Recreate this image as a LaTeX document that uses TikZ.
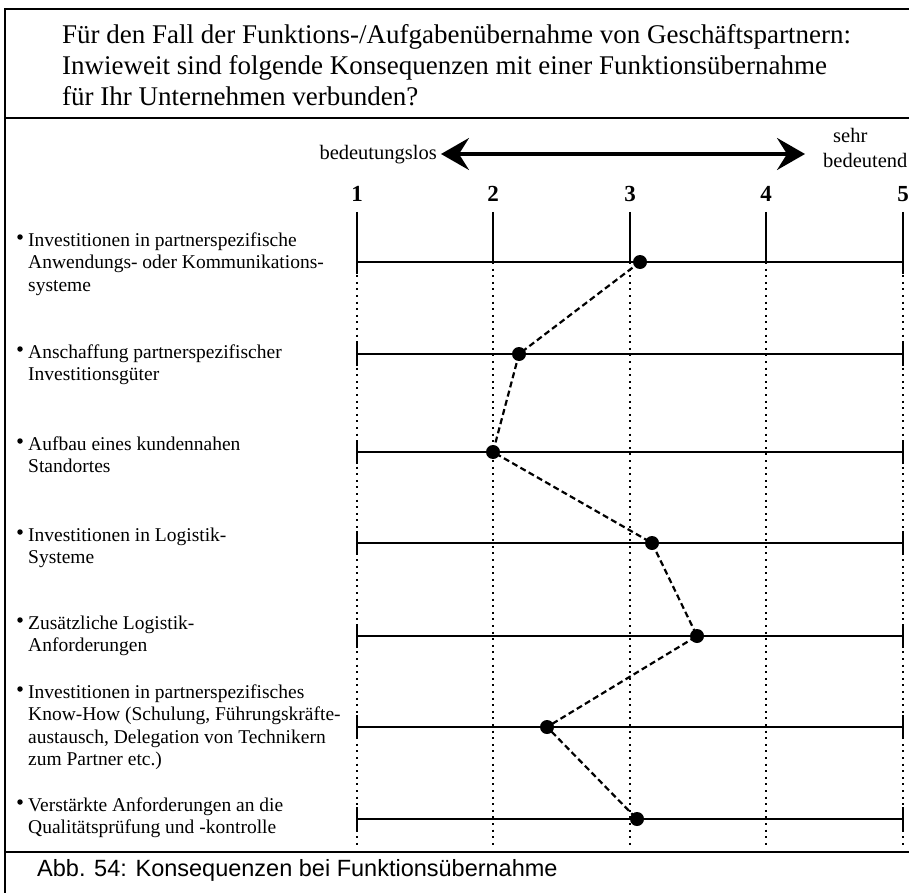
\documentclass[tikz,border=0pt]{standalone}
\usepackage{fontspec}
\setmainfont{Liberation Serif}
\newfontfamily\capfont{Liberation Sans}
\usetikzlibrary{arrows.meta}
\begin{document}
\begin{tikzpicture}[x=1pt,y=-1pt,
  frameline/.style={line width=2.8pt},
  rowline/.style={line width=2.8pt},
  gridline/.style={line width=2.2pt,dash pattern=on 2pt off 4.6pt},
  tickline/.style={line width=2.5pt},
  link/.style={line width=2.2pt,dash pattern=on 6pt off 3.5pt},
  datadot/.style={circle,fill=black,inner sep=0pt,minimum size=14pt},
  titletext/.style={anchor=base west,inner sep=0pt,font=\fontsize{27}{31}\selectfont},
  itemtext/.style={anchor=base west,inner sep=0pt,font=\fontsize{19.5}{22.6}\selectfont},
  scalenum/.style={anchor=base,inner sep=0pt,font=\fontsize{23}{26}\selectfont\bfseries},
  poletext/.style={inner sep=0pt,font=\fontsize{20.5}{24}\selectfont},
  bulletdot/.style={circle,fill=black,inner sep=0pt,minimum size=5.5pt},
  polearrow/.style={line width=3.2pt,>={Stealth[length=28pt,width=32pt,inset=10pt]},<->}
]
\useasboundingbox (0,0) rectangle (909,893);

% frame and separators
\coordinate (ftl) at (5,9);
\coordinate (ftr) at (909,9);
\coordinate (fbl) at (5,893);
\coordinate (s1l) at (5,118);
\coordinate (s1r) at (909,118);
\coordinate (s2l) at (5,852);
\coordinate (s2r) at (909,852);
\draw[frameline] (ftr) -- (ftl) -- (fbl);
\draw[frameline] (s1l) -- (s1r);
\draw[frameline] (s2l) -- (s2r);

% question
\node[titletext] (q1) at (62,44) {Für den Fall der Funktions-/Aufgabenübernahme von Geschäftspartnern:};
\node[titletext] (q2) at (62,75) {Inwieweit sind folgende Konsequenzen mit einer Funktionsübernahme};
\node[titletext] (q3) at (62,106) {für Ihr Unternehmen verbunden?};

% poles of the scale
\node[poletext,anchor=base east] (low) at (437,160) {bedeutungslos};
\node[poletext,anchor=base west] (high1) at (833,143) {sehr};
\node[poletext,anchor=base west] (high2) at (823,168) {bedeutend};
\coordinate (al) at (441,154);
\coordinate (ar) at (805,154);
\draw[polearrow] (al) -- (ar);

% scale numbers, ticks and dotted guides
\foreach \v/\x in {1/357,2/493,3/630,4/766,5/903}{
  \node[scalenum] (n\v) at (\x,202) {\v};
  \coordinate (t\v) at (\x,212);
  \coordinate (g\v) at (\x,262);
  \coordinate (e\v) at (\x,847);
  \draw[tickline] (t\v) -- (g\v);
  \draw[gridline] (g\v) -- (e\v);
}

% rating rows
\foreach \r/\y in {1/262,2/354,3/452,4/543,5/636,6/727,7/819}{
  \coordinate (rl\r) at (357,\y);
  \coordinate (rr\r) at (903,\y);
  \draw[rowline] (rl\r) -- (rr\r);
  \draw[tickline] ([yshift=-12pt]rl\r) -- ([yshift=12pt]rl\r);
  \draw[tickline] ([yshift=-12pt]rr\r) -- ([yshift=12pt]rr\r);
}

% mean values
\node[datadot] (p1) at (640,262) {};
\node[datadot] (p2) at (519,354) {};
\node[datadot] (p3) at (493,452) {};
\node[datadot] (p4) at (652,543) {};
\node[datadot] (p5) at (697,636) {};
\node[datadot] (p6) at (547,727) {};
\node[datadot] (p7) at (637,819) {};
\draw[link] (p1.center) -- (p2.center) -- (p3.center) -- (p4.center) -- (p5.center) -- (p6.center) -- (p7.center);

% item labels
\node[itemtext] (i1) at (28,246) {\begin{tabular}[t]{@{}l@{}}Investitionen in partnerspezifische\\Anwendungs- oder Kommunikations-\\systeme\end{tabular}};
\node[itemtext] (i2) at (28,358) {\begin{tabular}[t]{@{}l@{}}Anschaffung partnerspezifischer\\Investitionsgüter\end{tabular}};
\node[itemtext] (i3) at (28,450) {\begin{tabular}[t]{@{}l@{}}Aufbau eines kundennahen\\Standortes\end{tabular}};
\node[itemtext] (i4) at (28,541) {\begin{tabular}[t]{@{}l@{}}Investitionen in Logistik-\\Systeme\end{tabular}};
\node[itemtext] (i5) at (28,629) {\begin{tabular}[t]{@{}l@{}}Zusätzliche Logistik-\\Anforderungen\end{tabular}};
\node[itemtext] (i6) at (28,698) {\begin{tabular}[t]{@{}l@{}}Investitionen in partnerspezifisches\\Know-How (Schulung, Führungskräfte-\\austausch, Delegation von Technikern\\zum Partner etc.)\end{tabular}};
\node[itemtext] (i7) at (28,811) {\begin{tabular}[t]{@{}l@{}}Verstärkte Anforderungen an die\\Qualitätsprüfung und -kontrolle\end{tabular}};
\foreach \b/\y in {1/246,2/358,3/450,4/541,5/629,6/698,7/811}{
  \node[bulletdot] (b\b) at (20,\y-9) {};
}

% caption
\node[anchor=base west,inner sep=0pt,font=\capfont\fontsize{23.5}{27}\selectfont] (cap) at (37,876) {Abb. 54: Konsequenzen bei Funktionsübernahme};
\end{tikzpicture}
\end{document}
